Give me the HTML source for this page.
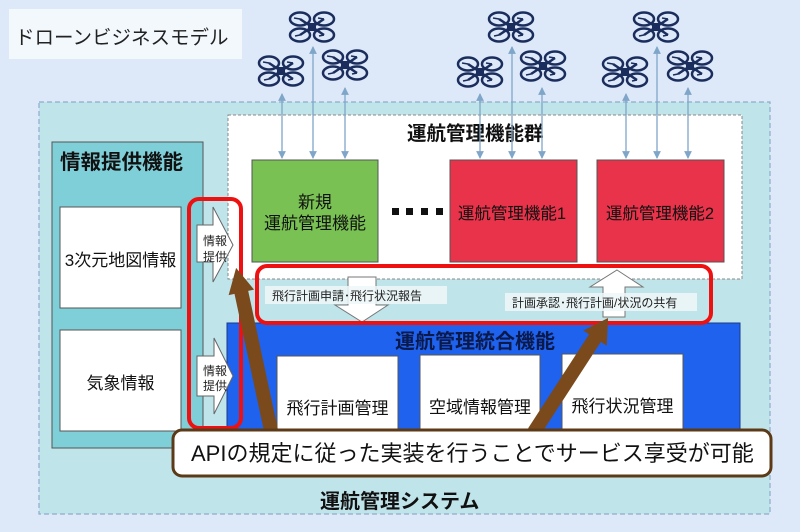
<!DOCTYPE html>
<html><head><meta charset="utf-8"><style>
html,body{margin:0;padding:0;background:#dde9f9;}
svg{display:block;}
text{font-family:"Liberation Sans","Noto Sans CJK JP",sans-serif;}
</style></head><body>
<svg width="800" height="532" viewBox="0 0 800 532" xmlns="http://www.w3.org/2000/svg">
<defs>
<g id="drone">
  <line x1="-12" y1="-8" x2="12" y2="8" stroke="#1b2d5c" stroke-width="2.5"/>
  <line x1="12" y1="-8" x2="-12" y2="8" stroke="#1b2d5c" stroke-width="2.5"/>
  <ellipse cx="-12" cy="-8" rx="10" ry="6.5" fill="none" stroke="#1b2d5c" stroke-width="2.5"/>
  <ellipse cx="12" cy="-8" rx="10" ry="6.5" fill="none" stroke="#1b2d5c" stroke-width="2.5"/>
  <ellipse cx="-12" cy="8" rx="10" ry="6.5" fill="none" stroke="#1b2d5c" stroke-width="2.5"/>
  <ellipse cx="12" cy="8" rx="10" ry="6.5" fill="none" stroke="#1b2d5c" stroke-width="2.5"/>
  <path d="M-18,-9 L-12,-8 M6,-9 L12,-8 M-17,9 L-12,8 M7,9 L12,8" stroke="#1b2d5c" stroke-width="1.5"/>
  <rect x="-4" y="-4" width="8" height="8" fill="#1b2d5c"/>
</g>
<marker id="ah" viewBox="0 0 8 8" refX="7" refY="4" markerWidth="6" markerHeight="6" orient="auto-start-reverse">
  <path d="M0,0 L8,4 L0,8 Z" fill="#7fa6c8"/>
</marker>
</defs>

<!-- title -->
<rect x="9" y="9" width="233" height="50" fill="#f3f8fd"/>
<text x="15" y="44" font-size="19.5" fill="#222">ドローンビジネスモデル</text>

<!-- drones -->
<use href="#drone" x="312" y="27"/>
<use href="#drone" x="281" y="71"/>
<use href="#drone" x="345" y="65"/>
<use href="#drone" x="511" y="27"/>
<use href="#drone" x="480" y="72"/>
<use href="#drone" x="543" y="66"/>
<use href="#drone" x="656" y="27"/>
<use href="#drone" x="625" y="72"/>
<use href="#drone" x="690" y="66"/>

<!-- outer system box -->
<rect x="39" y="102" width="731" height="412" fill="#bfe4ea" stroke="#8eaccb" stroke-width="1.2" stroke-dasharray="5,3"/>
<text x="320" y="508" font-size="20" font-weight="bold" fill="#111">運航管理システム</text>

<!-- info panel -->
<rect x="52" y="142" width="151" height="306" fill="#7fcfd9" stroke="#555" stroke-width="1"/>
<text x="60" y="169" font-size="20.5" font-weight="bold" fill="#111">情報提供機能</text>
<rect x="60" y="207" width="121" height="101" fill="#fff" stroke="#555" stroke-width="1"/>
<text x="120.5" y="266" font-size="17" text-anchor="middle" fill="#111">3次元地図情報</text>
<rect x="60" y="330" width="121" height="101" fill="#fff" stroke="#555" stroke-width="1"/>
<text x="120.5" y="389" font-size="17" text-anchor="middle" fill="#111">気象情報</text>

<!-- inner white dashed box -->
<rect x="228" y="115" width="514" height="164" fill="#fff" stroke="#888" stroke-width="1" stroke-dasharray="3,2"/>
<text x="407" y="140" font-size="19.5" font-weight="bold" fill="#111">運航管理機能群</text>

<!-- vertical thin arrows -->
<g stroke="#7fa6c8" stroke-width="1.3" marker-start="url(#ah)" marker-end="url(#ah)">
<line x1="282" y1="94" x2="282" y2="158"/>
<line x1="313" y1="47" x2="313" y2="158"/>
<line x1="345" y1="88" x2="345" y2="158"/>
<line x1="480" y1="94" x2="480" y2="158"/>
<line x1="512" y1="47" x2="512" y2="158"/>
<line x1="542" y1="88" x2="542" y2="158"/>
<line x1="626" y1="94" x2="626" y2="158"/>
<line x1="657" y1="47" x2="657" y2="158"/>
<line x1="688" y1="88" x2="688" y2="158"/>
</g>

<!-- function boxes -->
<rect x="252" y="160" width="126" height="102" fill="#78c152" stroke="#555" stroke-width="1"/>
<text x="315" y="208" font-size="17" text-anchor="middle" fill="#111">新規</text>
<text x="315" y="229" font-size="17" text-anchor="middle" fill="#111">運航管理機能</text>
<g fill="#111">
<rect x="392" y="208" width="7" height="7"/><rect x="406" y="208" width="7" height="7"/>
<rect x="421" y="208" width="7" height="7"/><rect x="436" y="208" width="7" height="7"/>
</g>
<rect x="450" y="160" width="127" height="102" fill="#e8334a" stroke="#555" stroke-width="1"/>
<text x="512" y="219" font-size="16.5" text-anchor="middle" fill="#111">運航管理機能1</text>
<rect x="597" y="160" width="127" height="102" fill="#e8334a" stroke="#555" stroke-width="1"/>
<text x="660" y="219" font-size="16.5" text-anchor="middle" fill="#111">運航管理機能2</text>

<!-- blue integrated box -->
<rect x="227" y="323" width="513" height="110" fill="#1f62ee" stroke="#1a3a8a" stroke-width="1"/>
<text x="395" y="348" font-size="20" font-weight="bold" fill="#0b1a4a">運航管理統合機能</text>
<rect x="277" y="356" width="121" height="80" fill="#fff" stroke="#555" stroke-width="1"/>
<text x="337.5" y="414" font-size="17" text-anchor="middle" fill="#111">飛行計画管理</text>
<rect x="420" y="355" width="120" height="80" fill="#fff" stroke="#555" stroke-width="1"/>
<text x="480" y="413" font-size="17" text-anchor="middle" fill="#111">空域情報管理</text>
<rect x="562" y="354" width="121" height="80" fill="#fff" stroke="#555" stroke-width="1"/>
<text x="622.5" y="412" font-size="17" text-anchor="middle" fill="#111">飛行状況管理</text>

<!-- info arrows -->
<path d="M197,225 L213,225 L213,207 L233,245 L213,282 L213,262 L197,262 Z" fill="#fff" stroke="#666" stroke-width="1"/>
<text x="215" y="245" font-size="12" text-anchor="middle" fill="#222">情報</text>
<text x="215" y="261" font-size="12" text-anchor="middle" fill="#222">提供</text>
<path d="M197,356 L214,356 L214,338 L233,376 L214,414 L214,396 L197,396 Z" fill="#fff" stroke="#666" stroke-width="1"/>
<text x="215" y="375" font-size="12" text-anchor="middle" fill="#222">情報</text>
<text x="215" y="390" font-size="12" text-anchor="middle" fill="#222">提供</text>

<!-- down arrow -->
<path d="M348,277 L376,277 L376,305 L388,305 L362,322 L335,305 L348,305 Z" fill="#fff" stroke="#777" stroke-width="1"/>
<!-- up arrow -->
<path d="M617,270 L643,287 L625,287 L625,317 L603,317 L603,287 L590,287 Z" fill="#fff" stroke="#777" stroke-width="1"/>

<!-- labels -->
<rect x="265" y="286" width="182" height="18" fill="#eef7f8" opacity="0.85"/>
<text x="272" y="300" font-size="12" fill="#222">飛行計画申請･飛行状況報告</text>
<rect x="505" y="293" width="192" height="18" fill="#eef7f8" opacity="0.85"/>
<text x="512" y="307" font-size="12" fill="#222">計画承認･飛行計画/状況の共有</text>

<!-- red rounded rects -->
<rect x="189" y="199" width="52" height="229" rx="10" fill="none" stroke="#ee1111" stroke-width="4"/>
<rect x="257" y="266" width="454" height="57" rx="10" fill="none" stroke="#ee1111" stroke-width="4"/>

<!-- brown arrows -->
<path d="M-7,0 L-7,-151 L-13,-151 L0,-176 L13,-151 L7,-151 L7,0 Z" fill="#7b4a1c" transform="translate(273,440) rotate(-12.1)"/>
<path d="M-7,0 L-7,-112 L-14,-112 L0,-136 L14,-112 L7,-112 L7,0 Z" fill="#7b4a1c" transform="translate(534,432) rotate(33)"/>

<!-- callout -->
<rect x="173" y="430" width="598" height="46" rx="9" fill="#fff" stroke="#5c3a17" stroke-width="3"/>
<text x="191" y="461" font-size="22" fill="#111">APIの規定に従った実装を行うことでサービス享受が可能</text>
</svg>
</body></html>
